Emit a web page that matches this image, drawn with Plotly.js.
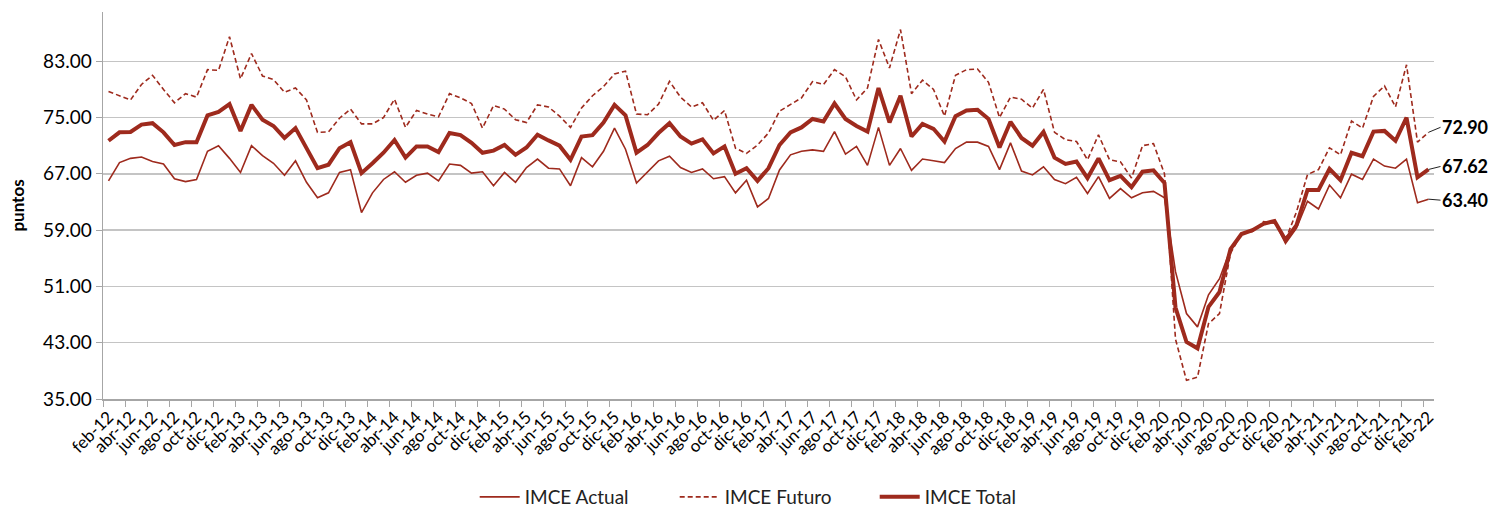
<!DOCTYPE html>
<html>
<head>
<meta charset="utf-8">
<script src="https://cdn.plot.ly/plotly-3.0.1.min.js"></script>
<style>html,body{margin:0;padding:0;background:#fff;}#chart{width:1507px;height:516px;}</style>
</head>
<body>
<div id="chart"></div>
<script>
// Month labels (Spanish abbreviations) and years covered: feb-12 .. feb-22
const monthNames = ["ene","feb","mar","abr","may","jun","jul","ago","set","oct","nov","dic"];
const startMonth = 1, startYear = 12, nMonths = 121;
const categories = [];
for (let k = 0; k < nMonths; k++) {
  const m = (startMonth + k) % 12;
  const y = startYear + Math.floor((startMonth + k) / 12);
  categories.push(monthNames[m] + "-" + y);
}

const imceActual = [
  66.0,68.6,69.2,69.4,68.75,68.4,66.3,65.9,66.2,70.2,71.0,69.2,
  67.2,71.0,69.6,68.5,66.8,68.85,65.8,63.6,64.3,67.2,67.6,61.5,
  64.3,66.2,67.3,65.8,66.8,67.1,66.0,68.4,68.2,67.1,67.3,65.3,
  67.2,65.8,67.9,69.1,67.8,67.7,65.3,69.3,68.0,70.2,73.5,70.5,
  65.7,67.3,68.85,69.5,67.9,67.2,67.7,66.3,66.6,64.3,66.1,62.3,
  63.5,67.55,69.7,70.2,70.4,70.2,73.0,69.8,70.9,68.2,73.6,68.2,
  70.6,67.5,69.1,68.85,68.6,70.6,71.5,71.5,70.9,67.6,71.4,67.4,
  66.85,68.0,66.2,65.6,66.5,64.2,66.6,63.5,64.9,63.6,64.3,64.5,
  63.6,53.1,47.15,45.25,49.8,52.1,56.3,58.5,59.0,60.0,60.3,57.1,
  59.3,63.1,62.0,65.4,63.6,66.95,66.2,69.1,68.1,67.8,69.1,62.9,
  63.40
];
const imceFuturo = [
  78.7,78.1,77.5,79.7,81.0,79.0,77.1,78.4,77.9,81.8,81.7,86.5,
  80.5,84.1,80.9,80.4,78.6,79.2,77.5,72.9,72.95,74.9,76.2,74.1,
  74.1,75.0,77.6,73.6,76.0,75.5,75.1,78.4,77.8,77.0,73.5,76.7,
  76.2,74.7,74.3,76.8,76.5,75.2,73.6,76.35,78.1,79.4,81.2,81.6,
  75.5,75.4,76.9,80.15,77.9,76.5,77.1,74.6,76.0,70.65,69.9,71.1,
  72.8,75.9,76.8,77.8,80.1,79.7,81.8,80.8,77.5,79.2,86.1,82.05,
  87.5,78.4,80.3,79.0,75.2,81.0,81.8,81.9,80.0,75.0,77.9,77.6,
  76.35,79.0,72.9,71.85,71.6,69.0,72.55,69.0,68.7,66.4,71.0,71.3,
  67.0,43.5,37.65,38.1,45.7,47.15,55.7,58.5,58.8,60.2,60.0,57.6,
  61.6,66.9,67.6,70.7,69.7,74.5,73.5,78.0,79.5,76.5,82.5,71.5,
  72.90
];
const imceTotal = [
  71.7,72.9,72.95,74.0,74.2,72.9,71.1,71.5,71.5,75.3,75.8,76.9,
  73.1,76.8,74.7,73.8,72.1,73.5,70.65,67.8,68.3,70.65,71.5,67.1,
  68.5,70.0,71.8,69.3,70.9,70.9,70.1,72.8,72.5,71.4,70.0,70.3,
  71.1,69.7,70.75,72.55,71.75,71.0,69.0,72.3,72.5,74.3,76.8,75.3,
  70.0,71.1,72.8,74.2,72.3,71.3,71.9,69.9,70.9,67.0,67.8,66.0,
  67.8,71.1,72.9,73.6,74.8,74.45,77.0,74.8,73.8,73.0,79.2,74.3,
  78.1,72.3,74.1,73.4,71.6,75.2,76.0,76.1,74.8,70.75,74.4,72.1,
  71.0,72.95,69.3,68.4,68.75,66.4,69.2,66.1,66.7,65.1,67.3,67.5,
  65.7,48.0,43.1,42.2,48.1,50.2,56.3,58.45,59.0,59.9,60.3,57.6,
  59.7,64.7,64.7,67.7,66.1,70.0,69.5,73.0,73.1,71.7,75.0,66.5,
  67.62
];
const yTicks = [35,43,51,59,67,75,83];
const seriesNames = ["IMCE Actual","IMCE Futuro","IMCE Total"];

const red = "#9E2A1D";
const font = "Lato, 'Open Sans', sans-serif";

const traces = [
  {x: categories, y: imceActual, name: seriesNames[0], type: "scatter", mode: "lines",
   line: {color: red, width: 1.6}},
  {x: categories, y: imceFuturo, name: seriesNames[1], type: "scatter", mode: "lines",
   line: {color: red, width: 1.6, dash: "5px,3px"}},
  {x: categories, y: imceTotal, name: seriesNames[2], type: "scatter", mode: "lines",
   line: {color: red, width: 4}}
];

const last = nMonths - 1;
const endLabels = [
  {v: imceFuturo[last], dy: -5},
  {v: imceTotal[last], dy: -3},
  {v: imceActual[last], dy: 1}
];
const annotations = endLabels.map(e => ({
  x: categories[last], y: e.v, xref: "x", yref: "y",
  text: "<b>" + e.v.toFixed(2) + "</b>",
  showarrow: true, arrowhead: 0, arrowwidth: 1, arrowcolor: "#222",
  ax: 12, ay: e.dy, xanchor: "left", borderpad: 0,
  font: {family: font, size: 18, color: "#000"}
}));

const layout = {
  width: 1507, height: 516,
  margin: {l: 103, r: 73, t: 12, b: 117, autoexpand: false},
  paper_bgcolor: "#fff", plot_bgcolor: "#fff",
  font: {family: font, color: "#000"},
  showlegend: true,
  legend: {orientation: "h", xref: "container", yref: "container",
           x: 0.315, xanchor: "left", y: 0, yanchor: "bottom",
           entrywidth: 145, entrywidthmode: "pixels",
           font: {family: font, size: 19, color: "#222"}, traceorder: "normal", itemwidth: 40},
  xaxis: {
    type: "category", range: [-0.5, nMonths - 0.5], automargin: false,
    dtick: 2, tick0: 0, tickson: "boundaries",
    ticks: "outside", ticklen: 6, tickcolor: "#a6a6a6",
    tickangle: -45, tickfont: {family: font, size: 17, color: "#000"},
    showline: true, linecolor: "#a6a6a6", linewidth: 1.5,
    showgrid: false, zeroline: false
  },
  yaxis: {
    range: [35, 90], tickvals: yTicks, ticktext: yTicks.map(v => v.toFixed(2)), automargin: false,
    ticks: "outside", ticklen: 6, tickcolor: "#a6a6a6",
    tickfont: {family: font, size: 19, color: "#000"},
    showline: true, linecolor: "#a6a6a6", linewidth: 1.5,
    showgrid: true, gridcolor: "#c4c4c4", gridwidth: 1.5, zeroline: false,
    title: {text: "<b>puntos</b>", font: {family: font, size: 17, color: "#000"}, standoff: 14}
  },
  annotations: annotations
};

Plotly.newPlot("chart", traces, layout, {displayModeBar: false, staticPlot: true});
</script>
</body>
</html>
